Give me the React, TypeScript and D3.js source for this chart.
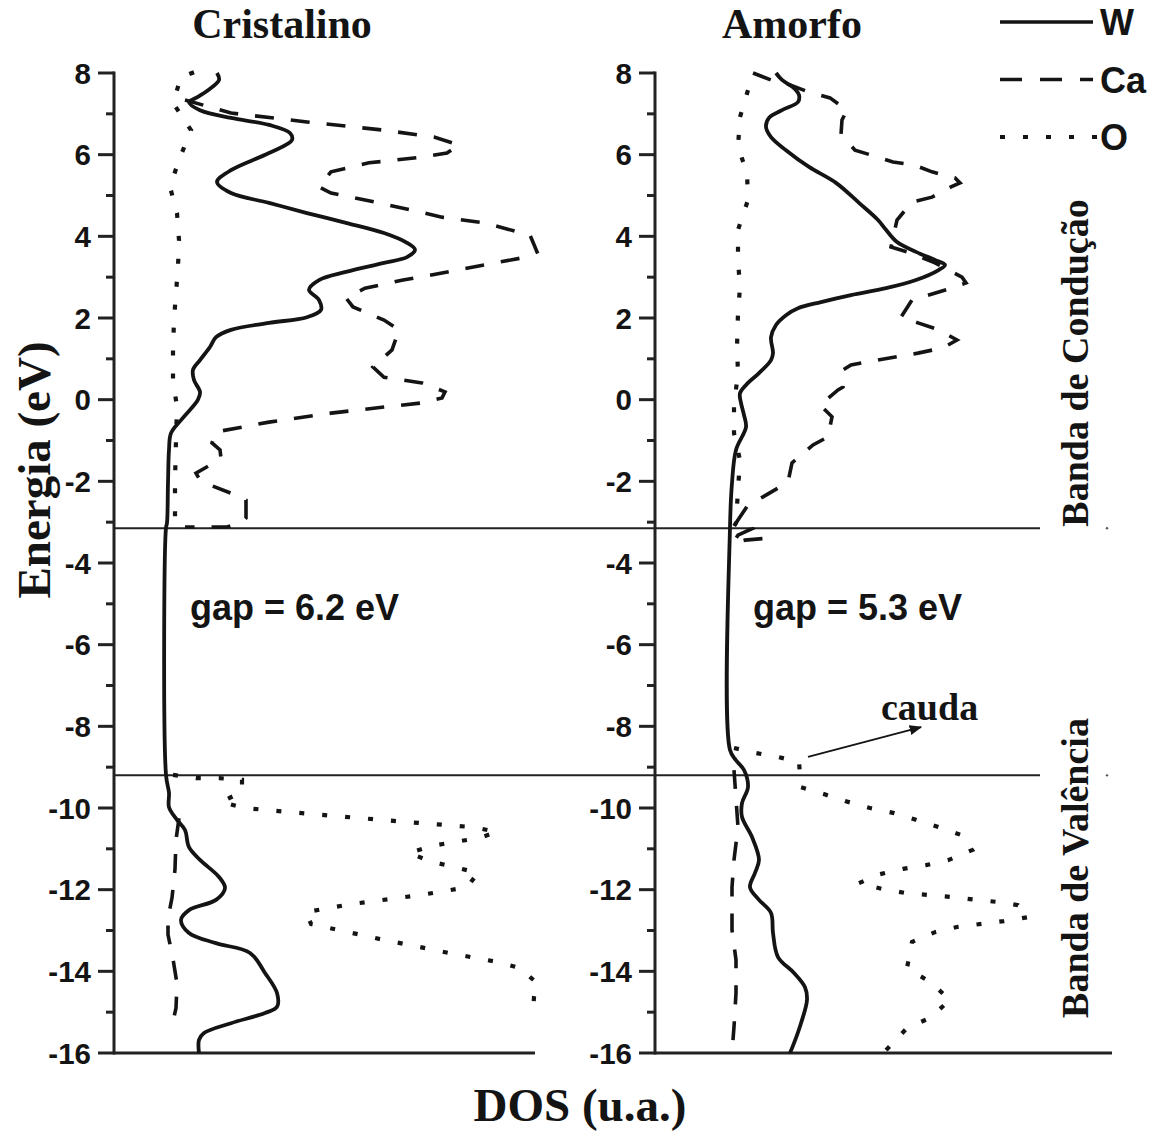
import React from 'react';
import * as d3 from 'd3';

type P = [number, number]; // [energy eV, DOS a.u.]

// ---------- data ----------
const E_MAJOR = d3.range(-16, 9, 2);
const E_MINOR = d3.range(-15, 8, 2);
const BAND_EDGES = [-3.15, -9.2];
const SERIES = ['W', 'Ca', 'O'];

// Cristalino
const crisW: P[] = [
  [8.0, 10.3], [7.83, 10.5], [7.58, 9.4], [7.39, 8.2], [7.29, 7.5], [7.09, 8.6], [6.9, 11.7],
  [6.73, 15.5], [6.53, 17.6], [6.36, 17.8], [6.04, 15.5], [5.62, 11.7], [5.33, 10.3], [5.06, 11.7],
  [4.82, 15.5], [4.57, 19.3], [4.33, 23.2], [4.08, 27.0], [3.84, 29.3], [3.67, 30.1], [3.49, 29.3],
  [3.35, 27.0], [3.13, 23.2], [2.93, 20.5], [2.69, 19.5], [2.44, 20.5], [2.2, 20.7], [2.02, 19.3],
  [1.88, 15.5], [1.71, 11.7], [1.53, 10.2], [1.29, 9.6], [0.97, 8.6], [0.73, 7.9], [0.48, 8.0],
  [0.19, 8.6], [0.0, 8.4], [-0.5, 6.7], [-0.82, 5.7], [-1.23, 5.5], [-2.04, 5.4], [-3.02, 5.3],
  [-3.14, 5.2], [-9.19, 5.2], [-9.63, 5.5], [-9.98, 5.5], [-10.29, 6.3], [-10.54, 7.1], [-10.96, 7.5],
  [-11.27, 8.6], [-11.69, 10.5], [-11.96, 11.1], [-12.25, 10.2], [-12.5, 7.5], [-12.74, 6.7],
  [-13.06, 7.5], [-13.31, 10.2], [-13.55, 13.6], [-14.04, 15.1], [-14.53, 16.3], [-14.87, 16.3],
  [-15.02, 15.1], [-15.27, 11.7], [-15.51, 9.0], [-15.68, 8.5], [-16.0, 8.5],
];
const crisCaCond: P[] = [
  [7.34, 7.1], [7.02, 11.7], [6.8, 19.3], [6.6, 27.0], [6.43, 32.0], [6.24, 34.5], [6.04, 33.3],
  [5.94, 30.8], [5.8, 25.5], [5.58, 21.7], [5.21, 20.5], [5.06, 21.7], [4.89, 25.1], [4.69, 28.9],
  [4.47, 32.8], [4.33, 37.0], [4.03, 41.6], [3.62, 42.3], [3.49, 41.2], [3.3, 37.0], [3.1, 32.8],
  [2.93, 28.9], [2.73, 25.1], [2.49, 23.2], [2.27, 23.9], [1.95, 27.0], [1.71, 28.5], [1.22, 27.8],
  [0.8, 25.9], [0.55, 27.0], [0.41, 30.8], [0.19, 33.1], [0.04, 32.8], [-0.08, 30.8], [-0.18, 27.0],
  [-0.33, 21.7], [-0.55, 15.5], [-0.79, 10.2], [-1.06, 9.8], [-1.23, 10.6], [-1.43, 10.7],
  [-1.53, 10.1], [-1.8, 8.2], [-1.97, 8.6], [-2.09, 9.6], [-2.29, 11.7], [-2.46, 13.2], [-2.9, 13.2],
  [-3.0, 12.8], [-3.12, 11.3], [-3.12, 7.1],
];
const crisCaVal: P[] = [
  [-10.25, 6.5], [-10.78, 6.2], [-11.5, 6.1], [-12.2, 5.8], [-12.7, 5.4], [-13.1, 5.4], [-13.7, 5.9],
  [-14.3, 6.3], [-14.9, 6.2], [-15.45, 5.7],
];
const crisOCond: P[] = [
  [8.02, 8.0], [7.9, 6.7], [7.27, 5.9], [6.6, 7.7], [5.87, 6.5], [5.21, 5.6], [4.57, 6.3], [3.91, 6.5],
  [3.25, 6.4], [2.61, 6.2], [1.95, 6.0], [1.22, 5.9], [0.48, 5.9], [-0.18, 6.3], [-1.0, 6.2],
  [-2.0, 6.1], [-2.95, 6.1], [-3.14, 6.3],
];
const crisOVal: P[] = [
  [-9.19, 5.9], [-9.27, 8.2], [-9.27, 10.5], [-9.31, 12.8], [-9.61, 12.8], [-9.85, 10.7], [-10.0, 13.0],
  [-10.15, 19.9], [-10.34, 29.1], [-10.47, 36.0], [-10.59, 38.3], [-10.74, 36.4], [-10.83, 34.1],
  [-10.93, 31.8], [-11.1, 29.5], [-11.32, 31.8], [-11.45, 34.1], [-11.59, 36.4], [-11.94, 35.3],
  [-12.13, 30.7], [-12.35, 23.8], [-12.55, 19.2], [-12.84, 19.7], [-13.21, 26.6], [-13.55, 33.5],
  [-13.77, 38.3], [-13.92, 40.6], [-14.29, 42.3], [-14.63, 42.0], [-15.02, 41.9],
];

// Amorfo
const amorW: P[] = [
  [8.0, 12.1], [7.83, 12.7], [7.63, 13.9], [7.46, 14.4], [7.29, 14.3], [7.09, 12.7], [6.9, 11.4],
  [6.68, 11.1], [6.43, 11.6], [6.11, 13.1], [5.7, 15.4], [5.31, 18.1], [4.82, 20.4], [4.4, 22.3],
  [4.16, 23.1], [3.86, 24.2], [3.62, 26.1], [3.42, 28.0], [3.3, 29.0], [3.18, 28.4], [2.93, 26.1],
  [2.73, 23.1], [2.56, 19.6], [2.39, 16.6], [2.24, 14.3], [2.07, 13.1], [1.83, 12.1], [1.53, 11.6],
  [1.14, 11.8], [0.97, 11.6], [0.65, 10.4], [0.41, 9.3], [0.16, 8.5], [-0.08, 8.6], [-0.38, 8.9],
  [-0.67, 9.1], [-1.23, 8.1], [-2.04, 7.7], [-3.12, 7.5], [-8.58, 7.5], [-8.83, 8.1], [-9.07, 8.9],
  [-9.49, 9.3], [-9.88, 8.7], [-10.22, 8.7], [-10.71, 9.7], [-11.27, 10.4], [-11.59, 10.0],
  [-11.94, 9.5], [-12.25, 10.4], [-12.57, 11.6], [-13.06, 11.8], [-13.65, 12.3], [-14.04, 13.9],
  [-14.39, 15.0], [-14.7, 15.2], [-15.27, 14.6], [-15.76, 13.9], [-16.0, 13.5],
];
const amorCaCond: P[] = [
  [8.0, 9.8], [7.83, 11.6], [7.71, 13.5], [7.53, 15.4], [7.39, 17.5], [7.09, 19.2], [6.85, 18.7],
  [6.5, 18.6], [6.11, 20.0], [5.94, 22.3], [5.82, 23.8], [5.75, 25.9], [5.58, 27.7], [5.43, 30.0],
  [5.31, 30.5], [5.21, 29.6], [4.96, 27.7], [4.84, 25.7], [4.4, 24.2], [3.74, 23.6], [3.62, 25.2],
  [3.35, 28.0], [3.0, 30.7], [2.86, 31.1], [2.73, 29.6], [2.44, 25.7], [2.02, 24.6], [1.88, 26.3],
  [1.71, 28.4], [1.46, 30.2], [1.27, 28.8], [1.14, 26.3], [0.97, 22.3], [0.85, 19.6], [0.73, 18.8],
  [0.31, 18.8], [0.24, 18.3], [-0.13, 16.5], [-0.42, 17.7], [-0.91, 17.3], [-1.11, 15.8],
  [-1.55, 13.7], [-2.02, 13.3], [-2.38, 10.8], [-2.58, 9.3], [-3.02, 8.1], [-3.16, 9.7], [-3.32, 8.3],
  [-3.51, 7.8], [-3.44, 9.0], [-3.39, 11.4], [-3.31, 12.3],
];
const amorCaVal: P[] = [
  [-9.07, 7.9], [-10.47, 8.3], [-11.27, 7.9], [-11.94, 7.7], [-12.99, 7.7], [-13.72, 8.1],
  [-14.53, 8.1], [-15.36, 7.9], [-16.0, 7.7],
];
const amorOCond: P[] = [
  [7.58, 9.3], [6.92, 8.5], [6.19, 8.3], [5.55, 9.2], [4.89, 9.3], [4.16, 8.3], [3.42, 8.3],
  [2.76, 8.5], [2.12, 8.3], [1.29, 8.2], [0.65, 8.3], [-0.13, 7.9], [-0.82, 7.9], [-1.48, 8.5],
  [-2.21, 8.3], [-3.02, 8.1], [-3.14, 7.8],
];
const amorOVal: P[] = [
  [-8.53, 7.9], [-8.65, 10.0], [-8.75, 12.3], [-8.87, 14.4], [-9.49, 14.6], [-9.66, 16.9],
  [-9.83, 19.0], [-10.0, 21.5], [-10.12, 23.8], [-10.29, 26.1], [-10.47, 28.4], [-10.66, 30.6],
  [-11.03, 31.7], [-11.27, 29.4], [-11.4, 27.1], [-11.49, 24.8], [-11.62, 22.5], [-11.84, 20.4],
  [-11.98, 22.7], [-12.08, 25.0], [-12.18, 29.6], [-12.3, 34.2], [-12.38, 36.3], [-12.67, 37.4],
  [-12.77, 34.9], [-12.91, 30.3], [-13.04, 28.0], [-13.28, 25.7], [-13.92, 25.2], [-14.26, 27.5],
  [-14.7, 29.5], [-15.14, 27.5], [-15.39, 25.2], [-15.93, 23.1],
];

// ---------- styling ----------
const SERIF = '"Liberation Serif", "Times New Roman", serif';
const SANS = '"Liberation Sans", Arial, sans-serif';
const DASH_CA = '19 17';
const DASH_O = '5 18';
const INK = '#141414';

export default function App() {
  const width = 1165;
  const height = 1131;
  const y = d3.scaleLinear().domain([-16, 8]).range([1053, 73]);

  const panels = [
    {
      title: 'Cristalino', titleX: 282, axisX: 114, axisEnd: 535,
      W: crisW, Ca: [crisCaCond, crisCaVal], O: [crisOCond, crisOVal],
      gap: 'gap = 6.2 eV', gapDos: 7.6,
    },
    {
      title: 'Amorfo', titleX: 792, axisX: 655, axisEnd: 1112,
      W: amorW, Ca: [amorCaCond, amorCaVal], O: [amorOCond, amorOVal],
      gap: 'gap = 5.3 eV', gapDos: 9.8,
    },
  ];

  const lineFor = (x: d3.ScaleLinear<number, number>, curve: d3.CurveFactory) =>
    d3.line<P>().x((d) => x(d[1])).y((d) => y(d[0])).curve(curve);

  const ampX = d3.scaleLinear().domain([0, 42]).range([655, 1075]);

  return (
    <svg width={width} height={height} style={{ position: 'absolute', left: 0, top: 0, background: '#fff' }}>
      <defs>
        <marker id="arr" viewBox="0 0 10 10" refX="9" refY="5" markerWidth="7" markerHeight="7" orient="auto">
          <path d="M0,1 L10,5 L0,9 Z" fill={INK} />
        </marker>
      </defs>
      <rect width={width} height={height} fill="#fff" />

      {/* band edge lines */}
      {BAND_EDGES.map((e) => (
        <line key={e} x1={114} x2={1040} y1={y(e)} y2={y(e)} stroke="#222" strokeWidth={2} />
      ))}
      {BAND_EDGES.map((e) => (
        <circle key={'d' + e} cx={1107} cy={y(e)} r={1.2} fill="#555" />
      ))}

      {panels.map((p) => {
        const x = d3.scaleLinear().domain([0, 42]).range([p.axisX, p.axisX + 420]);
        const smooth = lineFor(x, d3.curveCatmullRom.alpha(0.5));
        const lin = lineFor(x, d3.curveLinear);
        return (
          <g key={p.title}>
            <text x={p.titleX} y={38} textAnchor="middle" fontFamily={SERIF} fontWeight="bold" fontSize={42} fill={INK}>
              {p.title}
            </text>
            {/* axes */}
            <line x1={p.axisX} x2={p.axisX} y1={y(8) - 1.5} y2={y(-16) + 1.5} stroke="#222" strokeWidth={3} />
            <line x1={p.axisX} x2={p.axisEnd} y1={y(-16)} y2={y(-16)} stroke="#222" strokeWidth={3} />
            {E_MAJOR.map((e) => (
              <g key={'M' + e}>
                <line x1={p.axisX - 16} x2={p.axisX} y1={y(e)} y2={y(e)} stroke="#222" strokeWidth={3} />
                <text x={p.axisX - 23} y={y(e) + 10.5} textAnchor="end" fontFamily={SANS} fontWeight="bold" fontSize={29.5} fill={INK}>
                  {e}
                </text>
              </g>
            ))}
            {E_MINOR.map((e) => (
              <line key={'m' + e} x1={p.axisX - 8} x2={p.axisX} y1={y(e)} y2={y(e)} stroke="#222" strokeWidth={3} />
            ))}
            {/* curves */}
            {p.O.map((seg, i) => (
              <path key={'o' + i} d={lin(seg) || ''} fill="none" stroke={INK} strokeWidth={4.2} strokeDasharray={DASH_O} />
            ))}
            {p.Ca.map((seg, i) => (
              <path key={'c' + i} d={lin(seg) || ''} fill="none" stroke={INK} strokeWidth={3.6} strokeDasharray={DASH_CA} />
            ))}
            <path d={smooth(p.W) || ''} fill="none" stroke={INK} strokeWidth={3.8} />
            <text x={x(p.gapDos)} y={y(-5.4)} fontFamily={SANS} fontWeight="bold" fontSize={36} fill={INK}>
              {p.gap}
            </text>
          </g>
        );
      })}

      {/* cauda annotation */}
      <line x1={ampX(15.3)} y1={y(-8.75)} x2={ampX(26.6)} y2={y(-8.02)} stroke={INK} strokeWidth={1.8} markerEnd="url(#arr)" />
      <text x={ampX(22.6)} y={y(-7.85)} fontFamily={SERIF} fontWeight="bold" fontSize={38} fill={INK}>cauda</text>

      {/* axis titles */}
      <text transform={`translate(50,470) rotate(-90)`} textAnchor="middle" fontFamily={SERIF} fontWeight="bold" fontSize={47} fill={INK}>
        Energia (eV)
      </text>
      <text x={580} y={1121} textAnchor="middle" fontFamily={SERIF} fontWeight="bold" fontSize={47} fill={INK}>
        DOS (u.a.)
      </text>
      <text transform={`translate(1088,363) rotate(-90)`} textAnchor="middle" fontFamily={SERIF} fontWeight="bold" fontSize={38} fill={INK}>
        Banda de Condução
      </text>
      <text transform={`translate(1088,868) rotate(-90)`} textAnchor="middle" fontFamily={SERIF} fontWeight="bold" fontSize={38} fill={INK}>
        Banda de Valência
      </text>

      {/* legend */}
      {SERIES.map((s, i) => {
        const ly = 22 + i * 57.5;
        const dash = s === 'W' ? undefined : s === 'Ca' ? '22 18' : '5 18';
        return (
          <g key={s}>
            <line x1={1000} x2={s === 'O' ? 1100 : 1093} y1={ly} y2={ly} stroke={INK} strokeWidth={s === 'O' ? 4.2 : 3.6} strokeDasharray={dash} />
            <text x={1100} y={ly + 13} fontFamily={SANS} fontWeight="bold" fontSize={36} fill={INK}>{s}</text>
          </g>
        );
      })}
    </svg>
  );
}
